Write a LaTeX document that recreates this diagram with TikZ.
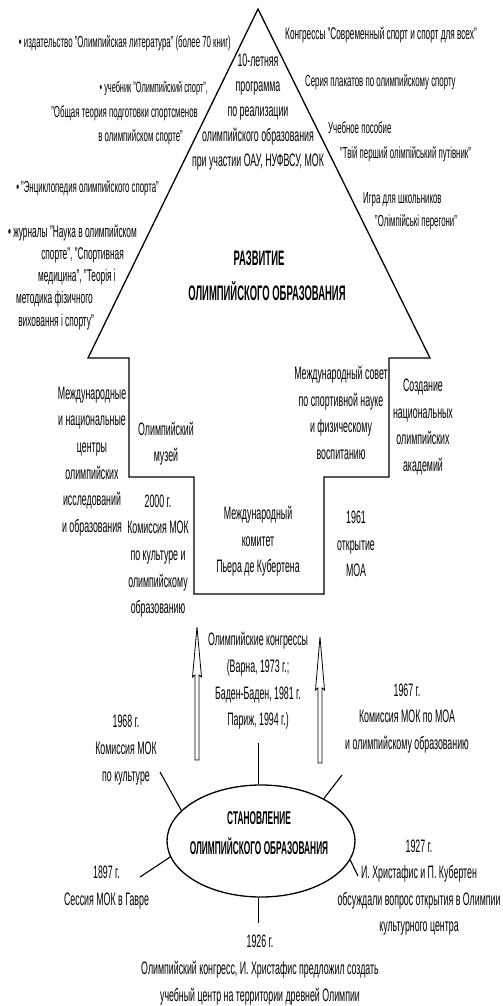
\documentclass[tikz,border=0pt]{standalone}
\usepackage{fontspec}
\setmainfont{Liberation Sans}[FakeStretch=0.49]
\newfontfamily\bfam{Liberation Sans Bold}[FakeStretch=0.45]
\usetikzlibrary{shapes.geometric}
\begin{document}
\begin{tikzpicture}[x=1pt,y=-1pt,
  every node/.style={inner sep=0pt, align=center},
  txt/.style={font=\fontsize{18}{26.6}\selectfont},
  txtp/.style={font=\fontsize{18}{25}\selectfont},
  note/.style={font=\fontsize{16}{22}\selectfont},
  bigb/.style={font=\fontsize{21}{32}\selectfont\bfam},
  midb/.style={font=\fontsize{18.5}{30}\selectfont\bfam},
  outline/.style={line width=1.3pt, line join=miter},
  spoke/.style={line width=1.1pt},
  thinline/.style={line width=0.7pt},
  hollow/.style={line width=0.8pt, fill=white, line join=miter}]
\useasboundingbox (0,0) rectangle (503,1006);
\fill[white] (0,0) rectangle (503,1006);

% big arrow outline
\draw[outline] (258,9) -- (430,358) -- (389,358) -- (389,477) -- (324,477) -- (324,594)
  -- (194,594) -- (194,477) -- (129,477) -- (129,358) -- (88,358) -- cycle;

% top-left texts
\node[note, anchor=east] (izd) at (231,43) {• издательство "Олимпийская литература" (более 70 книг)};
\node[note, anchor=east, font=\fontsize{15}{22}\selectfont] (ucha) at (208,88) {• учебник "Олимпийский спорт",};
\node[note, anchor=east] (uchb) at (198,113) {"Общая теория подготовки спортсменов};
\node[note, anchor=east] (uchc) at (183,137) {в олимпийском спорте"};
\node[note, anchor=east] (enc) at (159,188) {• "Энциклопедия олимпийского спорта"};
\node[note, anchor=east, font=\fontsize{17}{22}\selectfont] (ja) at (137,233) {• журналы "Наука в олимпийском};
\node[note, anchor=east, font=\fontsize{17}{22}\selectfont] (jb) at (124,255) {спорте", "Спортивная};
\node[note, anchor=east, font=\fontsize{17}{22}\selectfont] (jc) at (116,277) {медицина", "Теорія і};
\node[note, anchor=east, font=\fontsize{17}{22}\selectfont] (jd) at (93,299) {методика фізичного};
\node[note, anchor=east, font=\fontsize{17}{22}\selectfont] (je) at (94,322) {виховання і спорту"};

% top-right texts
\node[note, anchor=west, font=\fontsize{16.8}{22}\selectfont] (kon) at (285,35) {Конгрессы "Современный спорт и спорт для всех"};
\node[note, anchor=west] (ser) at (305,82) {Серия плакатов по олимпийскому спорту};
\node[note, anchor=west] (pos) at (328,128) {Учебное пособие};
\node[note, anchor=west] (put) at (340,154) {"Твій перший олімпійський путівник"};
\node[note, anchor=west] (igr) at (363,200) {Игра для школьников};
\node[note, anchor=west] (per) at (375,222) {"Олімпійські перегони"};

% inside triangle
\node[txtp] (prog) at (258,112) {10-летняя\\программа\\по реализации\\олимпийского образования\\при участии ОАУ, НУФВСУ, МОК};
\node[bigb] (razv) at (259,258) {РАЗВИТИЕ};
\node[bigb] (olob) at (267,291) {ОЛИМПИЙСКОГО ОБРАЗОВАНИЯ};

% steps
\node[txt] (centr) at (92,461.5) {Международные\\и национальные\\центры\\олимпийских\\исследований\\и образования};
\node[txt] (muz) at (166,443.5) {Олимпийский\\музей};
\node[txt] (kom2000) at (158,556) {2000 г.\\Комиссия МОК\\по культуре и\\олимпийскому\\образованию};
\node[txt] (kub) at (258,541.5) {Международный\\комитет\\Пьера де Кубертена};
\node[txt] (sov) at (341,413) {Международный совет\\по спортивной науке\\и физическому\\воспитанию};
\node[txt] (soz) at (423,427) {Создание\\национальных\\олимпийских\\академий};
\node[txt] (moa) at (356,544) {1961\\открытие\\МОА};

% hollow arrows
\draw[hollow] (197,627) -- (201.5,677) -- (199,675) -- (199,760) -- (195,760) -- (195,675) -- (192.5,677) -- cycle;
\draw[hollow] (320,637) -- (324.5,690) -- (322,688) -- (322,763) -- (318,763) -- (318,688) -- (315.5,690) -- cycle;

\node[txt] (congr) at (258,681) {Олимпийские конгрессы\\(Варна, 1973 г.;\\Баден-Баден, 1981 г.\\Париж, 1994 г.)};

% lower part
\node[draw, ellipse, line width=1.3pt, minimum width=188pt, minimum height=112pt] (E) at (261,841) {};
\node[midb] (stan) at (259,833) {СТАНОВЛЕНИЕ\\ОЛИМПИЙСКОГО ОБРАЗОВАНИЯ};

\node[txt] (y68) at (126,750) {1968 г.\\Комиссия МОК\\по культуре};
\node[txt] (y67) at (407,718.5) {1967 г.\\Комиссия МОК по МОА\\и олимпийскому образованию};
\node[txt] (y97) at (106.5,887.5) {1897 г.\\Сессия МОК в Гавре};
\node[txt] (y27) at (419,887.5) {1927 г.\\И. Христафис и П. Кубертен\\обсуждали вопрос открытия в Олимпии\\культурного центра};
\node[txt] (y26) at (260,970) {1926 г.\\Олимпийский конгресс, И. Христафис предложил создать\\учебный центр на территории древней Олимпии};

% spokes
\coordinate (cT) at (258,743);
\coordinate (cUL) at (160,772);
\coordinate (cUR) at (342,775);
\coordinate (cLL) at (140,877);
\coordinate (cLR) at (358,876);
\coordinate (cB) at (258,923);
\draw[thinline] (cT) -- (cT |- E.north);
\draw[spoke] (cUL) -- (E.159);
\draw[spoke] (cUR) -- (E.34);
\draw[spoke] (cLL) -- (E.190);
\draw[spoke] (cLR) -- (E.348);
\draw[thinline] (cB) -- (cB |- E.south);
\end{tikzpicture}
\end{document}
